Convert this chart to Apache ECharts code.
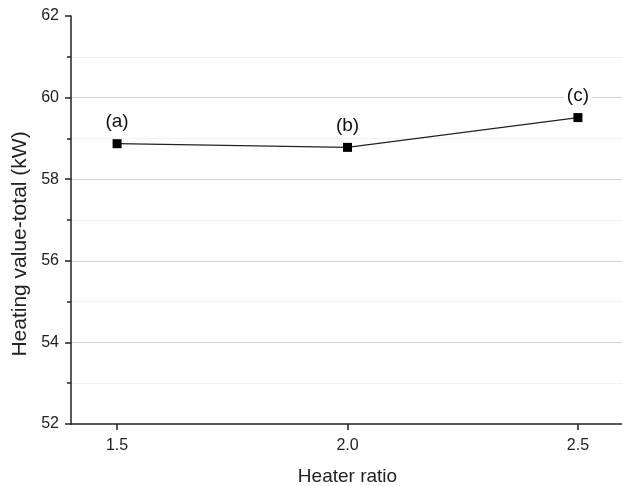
<!DOCTYPE html>
<html><head><meta charset="utf-8">
<script src="https://cdn.jsdelivr.net/npm/echarts@6/dist/echarts.min.js"></script>
<style>html,body{margin:0;padding:0;background:#fff}#c{width:622px;height:486px}</style>
</head><body><div id="c"></div>
<script>
const heaterRatio = [1.5, 2.0, 2.5];
const heatingTotal = [58.87, 58.78, 59.51];
const pointLabels = ['(a)', '(b)', '(c)'];
const yTicks = [52, 54, 56, 58, 60, 62];
const xTicks = [1.5, 2.0, 2.5];

const chart = echarts.init(document.getElementById('c'));
const font = 'Arial, "Liberation Sans", sans-serif';
chart.setOption({
  animation: false,
  backgroundColor: '#fff',
  grid: { left: 71, right: -2, top: 16, bottom: 62, containLabel: false, outerBoundsMode: 'none' },
  xAxis: {
    type: 'value', min: 1.4, max: 2.6, interval: 0.1,
    name: 'Heater ratio', nameLocation: 'middle', nameGap: 43,
    nameTextStyle: { fontFamily: font, fontSize: 19, color: '#222' },
    axisLine: { show: true, lineStyle: { color: '#222', width: 1.5 } },
    axisTick: { show: true, inside: false, length: 6, customValues: xTicks, lineStyle: { color: '#222', width: 1.5 } },
    axisLabel: { fontFamily: font, fontSize: 16, color: '#222', margin: 14, customValues: xTicks,
      formatter: v => v.toFixed(1) },
    splitLine: { show: false }
  },
  yAxis: {
    type: 'value', min: yTicks[0], max: yTicks[yTicks.length - 1], interval: 2,
    name: 'Heating value-total (kW)', nameLocation: 'middle', nameGap: 40,
    nameTextStyle: { fontFamily: font, fontSize: 21, color: '#222', padding: [0, 48, 0, 0] },
    axisLine: { show: true, lineStyle: { color: '#222', width: 1.5 } },
    axisTick: { show: true, inside: false, length: 6, lineStyle: { color: '#222', width: 1.5 } },
    minorTick: { show: true, splitNumber: 2, length: 4, lineStyle: { color: '#222', width: 1.5 } },
    axisLabel: { fontFamily: font, fontSize: 16, color: '#222', margin: 12 },
    splitLine: { show: true, showMinLine: false, showMaxLine: false, lineStyle: { color: '#d4d4d4', width: 1 } },
    minorSplitLine: { show: true, lineStyle: { color: '#e4e4e4', width: 1, type: 'dotted' } }
  },
  series: [{
    type: 'line',
    data: heaterRatio.map((x, i) => [x, heatingTotal[i]]),
    symbol: 'rect', symbolSize: 9,
    itemStyle: { color: '#000' },
    lineStyle: { color: '#222', width: 1.2 },
    label: {
      show: true, position: 'top', distance: 8,
      formatter: p => pointLabels[p.dataIndex],
      fontFamily: font, fontSize: 19, color: '#111',
      backgroundColor: '#fff', padding: [0, 3]
    }
  }]
});
</script></body></html>
